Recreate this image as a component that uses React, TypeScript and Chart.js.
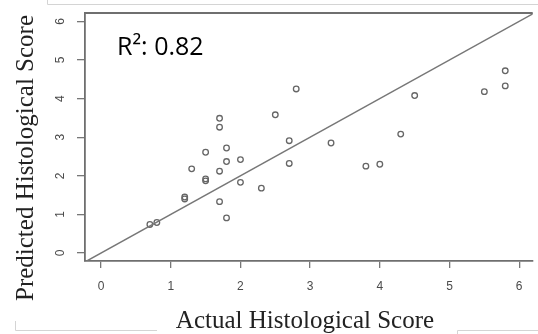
import React, { useEffect, useRef } from "react";
import { Chart, registerables } from "chart.js";

Chart.register(...registerables);

const actualScores = [0.7, 0.8, 1.2, 1.2, 1.3, 1.5, 1.5, 1.5, 1.7, 1.7, 1.7, 1.7, 1.8, 1.8, 1.8, 2.0, 2.0, 2.3, 2.5, 2.7, 2.7, 2.8, 3.3, 3.8, 4.0, 4.3, 4.5, 5.5, 5.8, 5.8];
const predictedScores = [0.74, 0.79, 1.4, 1.45, 2.18, 1.87, 1.92, 2.61, 3.49, 3.26, 2.12, 1.33, 2.72, 2.37, 0.91, 2.42, 1.83, 1.68, 3.58, 2.91, 2.32, 4.25, 2.85, 2.25, 2.3, 3.08, 4.08, 4.18, 4.72, 4.33];
const identityLine = [-1, 7];
const tickValues = [0, 1, 2, 3, 4, 5, 6];
const rSquaredLabel = "R\u00b2: 0.82";
const xTitle = "Actual Histological Score";
const yTitle = "Predicted Histological Score";

export default function App() {
  const ref = useRef<HTMLCanvasElement | null>(null);

  useEffect(() => {
    const canvas = ref.current;
    if (!canvas) return;

    const decor = {
      id: "decor",
      afterDraw(chart: any) {
        const ctx = chart.ctx;
        const { left, right, top } = chart.chartArea;
        const ys = chart.scales.y;
        ctx.save();
        // frame artifacts
        ctx.strokeStyle = "#d4d4d4";
        ctx.lineWidth = 1;
        ctx.beginPath();
        ctx.moveTo(47.5, 0);
        ctx.lineTo(47.5, 4.5);
        ctx.lineTo(538, 4.5);
        ctx.moveTo(15.5, 321);
        ctx.lineTo(15.5, 330.5);
        ctx.lineTo(157, 330.5);
        ctx.moveTo(457.5, 334);
        ctx.lineTo(457.5, 330.5);
        ctx.lineTo(538, 330.5);
        ctx.stroke();
        // top of box
        ctx.strokeStyle = "#6f6f6f";
        ctx.lineWidth = 1.8;
        ctx.beginPath();
        ctx.moveTo(left, top);
        ctx.lineTo(right, top);
        ctx.stroke();
        // y tick labels rotated
        ctx.fillStyle = "#4a4a4a";
        ctx.font = "12px 'Liberation Sans', Arial, sans-serif";
        ctx.textAlign = "center";
        ctx.textBaseline = "middle";
        tickValues.forEach((v) => {
          const py = ys.getPixelForValue(v);
          ctx.save();
          ctx.translate(61, py);
          ctx.rotate(-Math.PI / 2);
          ctx.fillText(String(v), 0, 0);
          ctx.restore();
        });
        // titles
        ctx.fillStyle = "#222";
        ctx.font = "25px 'Liberation Serif', 'Times New Roman', serif";
        ctx.textBaseline = "alphabetic";
        ctx.textAlign = "center";
        ctx.fillText(xTitle, 305, 328);
        ctx.save();
        ctx.translate(33, 158);
        ctx.rotate(-Math.PI / 2);
        ctx.fillText(yTitle, 0, 0);
        ctx.restore();
        // R squared
        ctx.fillStyle = "#000";
        ctx.font = "25px 'Open Sans', sans-serif";
        ctx.textAlign = "left";
        ctx.fillText(rSquaredLabel, 117, 55);
        ctx.restore();
      },
    };

    const chart = new Chart(canvas, {
      type: "scatter",
      data: {
        datasets: [
          {
            type: "line",
            data: identityLine.map((v) => ({ x: v, y: v })),
            borderColor: "#777",
            borderWidth: 1.5,
            pointRadius: 0,
            fill: false,
          } as any,
          {
            data: actualScores.map((x, i) => ({ x, y: predictedScores[i] })),
            pointStyle: "circle",
            pointRadius: 2.8,
            pointBorderWidth: 1.3,
            borderColor: "#666",
            backgroundColor: "rgba(0,0,0,0)",
            pointBackgroundColor: "rgba(0,0,0,0)",
            pointBorderColor: "#666",
          },
        ],
      },
      options: {
        responsive: false,
        animation: false,
        devicePixelRatio: 1,
        layout: { padding: { top: 13, right: 0, left: 0, bottom: 0 } },
        plugins: { legend: { display: false }, tooltip: { enabled: false } },
        scales: {
          x: {
            type: "linear",
            min: -0.231,
            max: 6.194,
            afterBuildTicks: (s: any) => {
              s.ticks = tickValues.map((v) => ({ value: v }));
            },
            afterFit: (s: any) => {
              s.height = 73;
            },
            ticks: {
              includeBounds: false,
              padding: 11,
              color: "#4a4a4a",
              font: { family: "'Liberation Sans', Arial, sans-serif", size: 12 },
              maxRotation: 0,
              minRotation: 0,
            },
            grid: { drawOnChartArea: false, drawTicks: true, tickLength: 7, color: "#777", lineWidth: 1.3 },
            border: { display: true, color: "#6f6f6f", width: 1.8 },
          },
          y: {
            type: "linear",
            min: -0.207,
            max: 6.218,
            afterBuildTicks: (s: any) => {
              s.ticks = tickValues.map((v) => ({ value: v }));
            },
            afterFit: (s: any) => {
              s.width = 85;
            },
            ticks: { display: false, includeBounds: false },
            grid: { drawOnChartArea: false, drawTicks: true, tickLength: 8, color: "#777", lineWidth: 1.3 },
            border: { display: true, color: "#6f6f6f", width: 1.8 },
          },
        },
      },
      plugins: [decor],
    } as any);

    return () => chart.destroy();
  }, []);

  return (
    <div style={{ position: "fixed", left: 0, top: 0, width: 538, height: 334, background: "#fff" }}>
      <canvas ref={ref} width={538} height={334} style={{ display: "block", width: 538, height: 334 }} />
    </div>
  );
}
